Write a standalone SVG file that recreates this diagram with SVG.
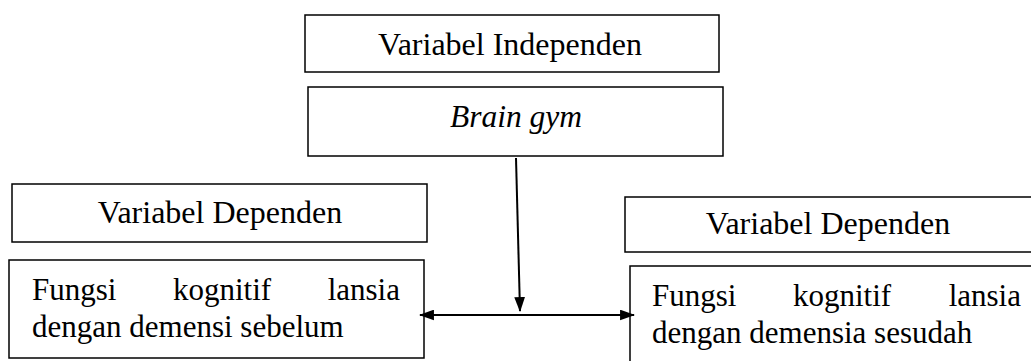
<svg xmlns="http://www.w3.org/2000/svg" width="1031" height="361" viewBox="0 0 1031 361">
<defs>
<style>
.box{fill:#fff;stroke:#000;stroke-width:1.5}
.t{font-family:"Liberation Serif","Times New Roman",serif;font-size:31px;fill:#000}
.h{font-size:32px}
.c{text-anchor:middle}
.conn{stroke:#000;stroke-width:2;fill:none}
</style>
<marker id="ah" viewBox="0 0 14 10" refX="13" refY="5" markerWidth="15" markerHeight="11" markerUnits="userSpaceOnUse" orient="auto-start-reverse">
<path d="M0,0 L14,5 L0,10 Z" fill="#000"/>
</marker>
</defs>
<rect width="1031" height="361" fill="#fff"/>
<g id="node-independen-label">
<rect class="box" x="305" y="15" width="414" height="57"/>
<text class="t h c" x="510" y="55">Variabel Independen</text>
</g>
<g id="node-brain-gym">
<rect class="box" x="308" y="87" width="415" height="69"/>
<text class="t c" x="516" y="127" font-style="italic" style="font-size:31.5px">Brain gym</text>
</g>
<g id="node-dependen-left-label">
<rect class="box" x="12" y="184" width="415" height="58"/>
<text class="t h c" x="220" y="223">Variabel Dependen</text>
</g>
<g id="node-sebelum">
<rect class="box" x="9" y="260" width="415" height="98"/>
<text class="t" y="300"><tspan x="32">Fungsi</tspan><tspan x="173">kognitif</tspan><tspan x="400" text-anchor="end">lansia</tspan></text>
<text class="t" x="32" y="337">dengan demensi sebelum</text>
</g>
<g id="node-dependen-right-label">
<rect class="box" x="625" y="197" width="420" height="55"/>
<text class="t h c" x="828" y="234">Variabel Dependen</text>
</g>
<g id="node-sesudah">
<rect class="box" x="630" y="266" width="420" height="110"/>
<text class="t" y="306"><tspan x="652">Fungsi</tspan><tspan x="793">kognitif</tspan><tspan x="1021" text-anchor="end">lansia</tspan></text>
<text class="t" x="652" y="343">dengan demensia sesudah</text>
</g>
<g id="connectors">
<line class="conn" x1="516" y1="158" x2="520" y2="311" marker-end="url(#ah)"/>
<line class="conn" x1="420" y1="315" x2="634" y2="315" marker-start="url(#ah)" marker-end="url(#ah)"/>
</g>
</svg>
